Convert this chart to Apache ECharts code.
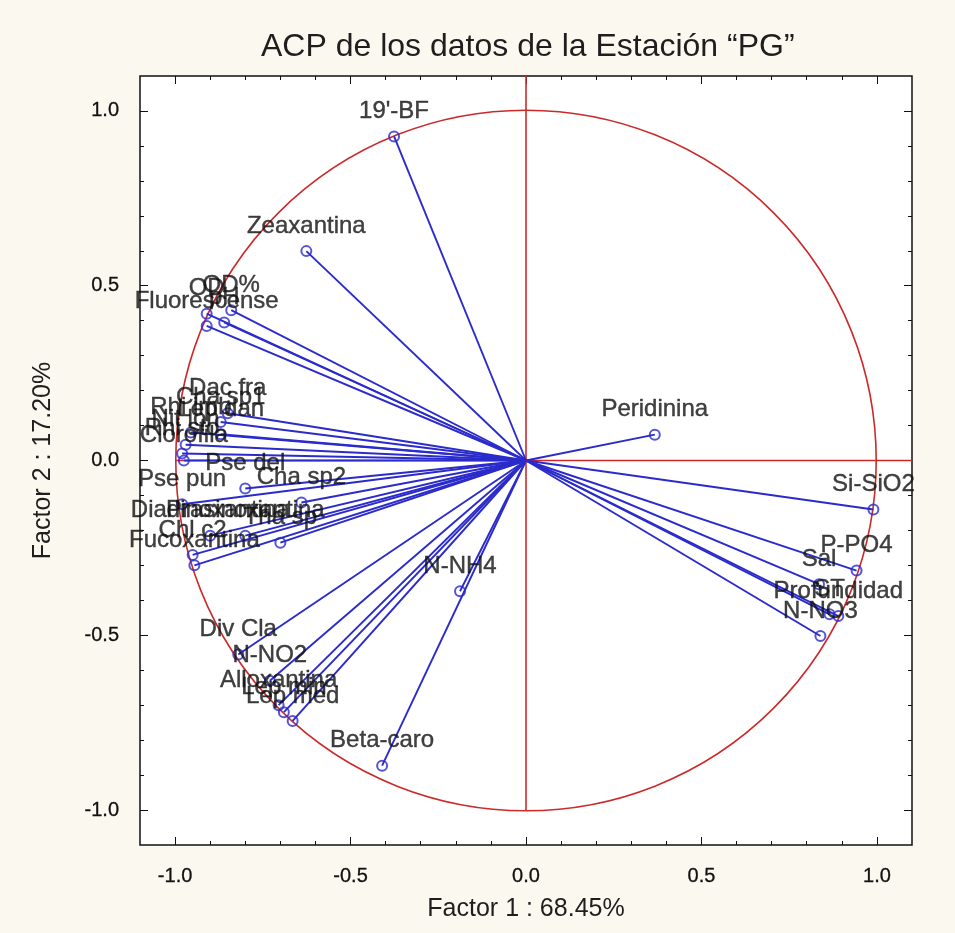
<!DOCTYPE html>
<html>
<head>
<meta charset="utf-8">
<script src="https://cdn.jsdelivr.net/npm/echarts@6/dist/echarts.min.js"></script>
<style>
  html, body { margin: 0; padding: 0; background: #fbf8ef; }
  #chart { width: 955px; height: 933px; }
</style>
</head>
<body>
<div id="chart"></div>
<script>
// Variable loadings on the first two factors (PCA, station "PG")
const varNames = [
  "19'-BF", 'Zeaxantina', 'OD%', 'OD', 'pH', 'Fluorescense',
  'Dac fra', 'Cha sp1', 'Rhi imb', 'Lep dan', 'Nit lon', 'Rhi sto', 'Clorofila',
  'Pse del', 'Cha sp2', 'Pse pun', 'Prasinoxantina', 'Diadinoxantina', 'Tha sp',
  'Chl c2', 'Fucoxantina',
  'Div Cla', 'N-NO2', 'Alloxantina', 'Lep min', 'Lep med', 'N-NH4', 'Beta-caro',
  'Peridinina', 'Si-SiO2', 'P-PO4', 'Sal', 'ST', 'Profundidad', 'N-NO3'
];
const factor1 = [
  -0.376, -0.626, -0.84, -0.91, -0.86, -0.91,
  -0.85, -0.87, -0.955, -0.87, -0.97, -0.98, -0.975,
  -0.80, -0.64, -0.98, -0.80, -0.90, -0.70,
  -0.95, -0.945,
  -0.82, -0.73, -0.705, -0.69, -0.665, -0.188, -0.41,
  0.367, 0.99, 0.942, 0.835, 0.865, 0.89, 0.839
];
const factor2 = [
  0.927, 0.599, 0.43, 0.42, 0.395, 0.385,
  0.135, 0.11, 0.08, 0.075, 0.045, 0.02, 0.0,
  -0.08, -0.12, -0.125, -0.215, -0.215, -0.235,
  -0.27, -0.30,
  -0.555, -0.63, -0.70, -0.72, -0.745, -0.374, -0.873,
  0.074, -0.14, -0.315, -0.354, -0.44, -0.445, -0.502
];

// Axis ticks and labels
const majorTicks = [-1.0, -0.5, 0.0, 0.5, 1.0];
const minorTicks = [-0.9, -0.8, -0.7, -0.6, -0.4, -0.3, -0.2, -0.1,
                    0.1, 0.2, 0.3, 0.4, 0.6, 0.7, 0.8, 0.9];
const axisMin = -1.1, axisMax = 1.1;

const titleText = 'ACP de los datos de la Estación “PG”';
const xTitle = 'Factor 1 : 68.45%';
const yTitle = 'Factor 2 : 17.20%';

const FONT = "'Liberation Sans', Arial, sans-serif";
const BLUE = '#2b2bcc';
const RED = '#cc2a2a';

const points = varNames.map((n, i) => ({ name: n, value: [factor1[i], factor2[i]] }));

// one axis of the frame: ticks drawn inward on the plot border
function tickAxis(pos, ticks, len, withLabel, extra) {
  const ax = {
    type: 'value', min: axisMin, max: axisMax, position: pos,
    axisLine: { show: false, onZero: false },
    splitLine: { show: false },
    axisTick: { show: true, inside: true, length: len, customValues: ticks,
                lineStyle: { color: '#111', width: 1 } },
    axisLabel: withLabel ? {
      customValues: majorTicks,
      formatter: v => v.toFixed(1),
      fontFamily: FONT, fontSize: 20, color: '#111', margin: 21,
      textBorderColor: '#111', textBorderWidth: 0.3
    } : { show: false }
  };
  return Object.assign(ax, extra || {});
}

const chart = echarts.init(document.getElementById('chart'), null, { renderer: 'canvas' });
chart.setOption({
  animation: false,
  backgroundColor: '#fbf8ef',
  title: {
    text: titleText, left: 256, top: 26,
    textStyle: { fontFamily: FONT, fontSize: 32, fontWeight: 'normal', color: '#1e1e1e' }
  },
  grid: {
    left: 140, right: 43, top: 76, bottom: 88,
    show: true, backgroundColor: '#ffffff', borderColor: '#111', borderWidth: 1.5
  },
  xAxis: [
    tickAxis('bottom', majorTicks, 8, true, {
      name: xTitle, nameLocation: 'middle', nameGap: 52,
      nameTextStyle: { fontFamily: FONT, fontSize: 25, color: '#1e1e1e' }
    }),
    tickAxis('top', majorTicks, 8, false),
    tickAxis('bottom', minorTicks, 4, false),
    tickAxis('top', minorTicks, 4, false)
  ],
  yAxis: [
    tickAxis('left', majorTicks, 8, true, {
      name: yTitle, nameLocation: 'middle', nameGap: 84, nameRotate: 90,
      nameTextStyle: { fontFamily: FONT, fontSize: 25, color: '#1e1e1e' }
    }),
    tickAxis('right', majorTicks, 8, false),
    tickAxis('left', minorTicks, 4, false),
    tickAxis('right', minorTicks, 4, false)
  ],
  series: [
    {
      // unit circle and the two reference axes through the origin
      type: 'custom',
      xAxisIndex: 0, yAxisIndex: 0,
      data: [[0, 0]],
      z: 1,
      silent: true,
      renderItem: function (params, api) {
        const c = api.coord([0, 0]);
        const r = api.size([1, 1]);
        const top = api.coord([0, axisMax]);
        const bottom = api.coord([0, -1]);
        const left = api.coord([-1, 0]);
        const right = api.coord([axisMax, 0]);
        return {
          type: 'group',
          children: [
            { type: 'circle', shape: { cx: c[0], cy: c[1], r: (r[0] + r[1]) / 2 },
              style: { fill: 'none', stroke: RED, lineWidth: 1.6 } },
            { type: 'line', shape: { x1: top[0], y1: top[1], x2: bottom[0], y2: bottom[1] },
              style: { stroke: RED, lineWidth: 1.6 } },
            { type: 'line', shape: { x1: left[0], y1: left[1], x2: right[0], y2: right[1] },
              style: { stroke: RED, lineWidth: 1.6 } }
          ]
        };
      }
    },
    {
      // loading vectors from the origin
      type: 'custom',
      xAxisIndex: 0, yAxisIndex: 0,
      data: points.map(p => p.value),
      encode: { x: 0, y: 1 },
      z: 2,
      silent: true,
      renderItem: function (params, api) {
        const o = api.coord([0, 0]);
        const p = api.coord([api.value(0), api.value(1)]);
        return { type: 'line', shape: { x1: o[0], y1: o[1], x2: p[0], y2: p[1] },
                 style: { stroke: BLUE, lineWidth: 1.9 } };
      }
    },
    {
      type: 'scatter',
      xAxisIndex: 0, yAxisIndex: 0,
      data: points,
      z: 3,
      symbol: 'circle',
      symbolSize: 10,
      itemStyle: { color: 'rgba(255,255,255,0)', borderColor: BLUE, borderWidth: 2 },
      label: {
        show: true, position: 'top', distance: 7,
        formatter: '{b}',
        fontFamily: FONT, fontSize: 24, color: '#111',
        textBorderColor: '#111', textBorderWidth: 0.4
      },
      emphasis: { disabled: true },
      labelLayout: { hideOverlap: false }
    }
  ]
});
</script>
</body>
</html>
